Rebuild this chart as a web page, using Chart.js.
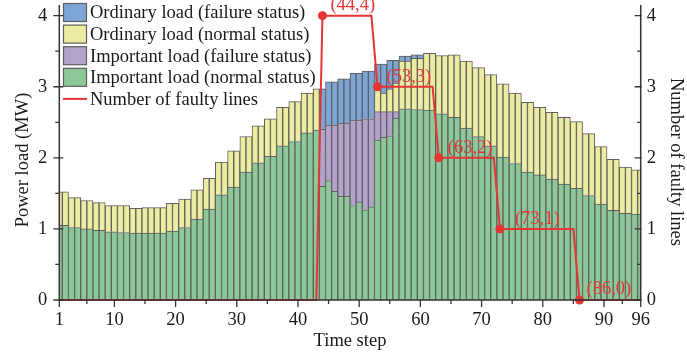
<!DOCTYPE html>
<html>
<head>
<meta charset="utf-8">
<script src="https://cdn.jsdelivr.net/npm/chart.js@4.4.1/dist/chart.umd.min.js"></script>
<style>
html,body{margin:0;padding:0;background:#fff;}
#wrap{width:687px;height:356px;position:relative;}
</style>
</head>
<body>
<div id="wrap"><canvas id="c" width="687" height="356"></canvas></div>
<script>
// ---------------- data ----------------
const timeSteps = [1,2,3,4,5,6,7,8,9,10,11,12,13,14,15,16,17,18,19,20,21,22,23,24,25,26,27,28,29,30,31,32,33,34,35,36,37,38,39,40,41,42,43,44,45,46,47,48,49,50,51,52,53,54,55,56,57,58,59,60,61,62,63,64,65,66,67,68,69,70,71,72,73,74,75,76,77,78,79,80,81,82,83,84,85,86,87,88,89,90,91,92,93,94,95,96];

const xTickLabels = [1,10,20,30,40,50,60,70,80,90,96];
const yTickLabels = [0,1,2,3,4];

// Important load (normal status), MW
const importantNormal = [
 1.05,1.05,1.02,1.02,1.00,1.00,0.98,0.98,0.96,0.96,
 0.95,0.95,0.94,0.94,0.94,0.94,0.94,0.94,0.97,0.97,
 1.02,1.02,1.14,1.14,1.28,1.28,1.48,1.48,1.59,1.59,
 1.80,1.80,1.93,1.93,2.02,2.02,2.17,2.17,2.23,2.23,
 2.35,2.35,2.39,1.60,1.68,1.53,1.46,1.46,1.33,1.38,
 1.27,1.31,2.25,2.29,2.31,2.56,2.69,2.69,2.68,2.68,
 2.67,2.67,2.62,2.62,2.57,2.57,2.42,2.42,2.30,2.30,
 2.17,2.17,2.01,2.01,1.92,1.92,1.80,1.80,1.76,1.76,
 1.70,1.70,1.63,1.63,1.57,1.57,1.47,1.47,1.35,1.35,
 1.26,1.26,1.22,1.22,1.21,1.21];

// Important load (failure status), MW
const importantFailure = [
 null,null,null,null,null,null,null,null,null,null,
 null,null,null,null,null,null,null,null,null,null,
 null,null,null,null,null,null,null,null,null,null,
 null,null,null,null,null,null,null,null,null,null,
 null,null,null,0.80,0.78,0.93,1.03,1.03,1.20,1.15,
 1.28,1.24,0.40,0.36,0.34,0.09,null,null,null,null,
 null,null,null,null,null,null,null,null,null,null,
 null,null,null,null,null,null,null,null,null,null,
 null,null,null,null,null,null,null,null,null,null,
 null,null,null,null,null,null];

// Ordinary load (normal status), MW
const ordinaryNormal = [
 0.47,0.47,0.42,0.42,0.40,0.40,0.39,0.39,0.37,0.37,
 0.38,0.38,0.35,0.35,0.36,0.36,0.36,0.36,0.39,0.39,
 0.40,0.40,0.41,0.41,0.43,0.43,0.46,0.46,0.51,0.51,
 0.50,0.50,0.52,0.52,0.53,0.53,0.54,0.54,0.56,0.56,
 0.56,0.56,0.58,null,null,null,null,null,null,null,
 null,null,0.31,0.26,0.32,0.40,0.67,0.67,0.72,0.72,
 0.80,0.80,0.82,0.82,0.88,0.88,0.94,0.94,0.97,0.97,
 1.00,1.00,1.03,1.03,0.99,0.99,0.98,0.98,0.95,0.95,
 0.94,0.94,0.94,0.94,0.94,0.94,0.87,0.87,0.81,0.81,
 0.72,0.72,0.65,0.65,0.62,0.62];

// Ordinary load (failure status), MW
const ordinaryFailure = [
 null,null,null,null,null,null,null,null,null,null,
 null,null,null,null,null,null,null,null,null,null,
 null,null,null,null,null,null,null,null,null,null,
 null,null,null,null,null,null,null,null,null,null,
 null,null,null,0.57,0.61,0.61,0.62,0.62,0.66,0.66,
 0.67,0.67,0.36,0.41,0.40,0.32,0.07,0.07,0.05,0.05,
 null,null,null,null,null,null,null,null,null,null,
 null,null,null,null,null,null,null,null,null,null,
 null,null,null,null,null,null,null,null,null,null,
 null,null,null,null,null,null];

// Number of faulty lines
const faultyLines = [
 0,0,0,0,0,0,0,0,0,0,0,0,0,0,0,0,0,0,0,0,
 0,0,0,0,0,0,0,0,0,0,0,0,0,0,0,0,0,0,0,0,
 0,0,0,4,4,4,4,4,4,4,4,4,3,3,3,3,3,3,3,3,
 3,3,2,2,2,2,2,2,2,2,2,2,1,1,1,1,1,1,1,1,
 1,1,1,1,1,0,0,0,0,0,0,0,0,0,0,0];

const markedSteps = [44,53,63,73,86];

// ---------------- styles ----------------
const COL = {
  green:'#8dc898', purple:'#b3a3cc', yellow:'#ececa2', blue:'#7da5d6',
  red:'#e53535', edge:'#5e5e5e', axis:'#333333', text:'#1a1a1a'
};
const FONT = "'Liberation Serif','Times New Roman',serif";
const FS = 18.5;
Chart.defaults.font.family = FONT;
Chart.defaults.font.size = FS;
Chart.defaults.color = COL.text;

const labelOffsets = {44:[8,-11],53:[9,-10],63:[9,-10],73:[15,-10],86:[7,-11]};

const legendItems = [
  {kind:'box', color:COL.blue,   text:'Ordinary load (failure status)'},
  {kind:'box', color:COL.yellow, text:'Ordinary load (normal status)'},
  {kind:'box', color:COL.purple, text:'Important load (failure status)'},
  {kind:'box', color:COL.green,  text:'Important load (normal status)'},
  {kind:'line',color:COL.red,    text:'Number of faulty lines'}
];

const overlay = {
  id:'overlay',
  afterDraw(chart){
    const {ctx, chartArea:a, scales} = chart;
    const xs = scales.x, ys = scales.y;
    ctx.save();
    // axes
    ctx.strokeStyle = COL.axis; ctx.lineWidth = 1.5;
    ctx.beginPath();
    ctx.moveTo(a.left, a.top); ctx.lineTo(a.left, a.bottom);
    ctx.lineTo(a.right, a.bottom); ctx.lineTo(a.right, a.top);
    ctx.stroke();
    ctx.lineWidth = 1.3;
    // y ticks (both sides)
    for (let i = 0; i < yTickLabels.length; i++) {
      const v = yTickLabels[i];
      const py = ys.getPixelForValue(v);
      ctx.beginPath();
      ctx.moveTo(a.left - 6, py); ctx.lineTo(a.left + 4, py);
      ctx.moveTo(a.right - 6, py); ctx.lineTo(a.right + 1, py);
      ctx.stroke();
      if (i < yTickLabels.length - 1) {
        const pm = ys.getPixelForValue((v + yTickLabels[i+1]) / 2);
        ctx.beginPath();
        ctx.moveTo(a.left - 4, pm); ctx.lineTo(a.left, pm);
        ctx.moveTo(a.right - 3.5, pm); ctx.lineTo(a.right, pm);
        ctx.stroke();
      }
    }
    // x ticks
    for (let i = 0; i < xTickLabels.length; i++) {
      const s = xTickLabels[i];
      const px = xs.getPixelForValue(s - 1);
      ctx.beginPath(); ctx.moveTo(px, a.bottom); ctx.lineTo(px, a.bottom + 7); ctx.stroke();
      if (i < xTickLabels.length - 1) {
        const pm = xs.getPixelForValue((s + xTickLabels[i+1]) / 2 - 1);
        ctx.beginPath(); ctx.moveTo(pm, a.bottom); ctx.lineTo(pm, a.bottom + 4); ctx.stroke();
      }
    }
    // titles
    ctx.fillStyle = COL.text;
    ctx.font = FS + 'px ' + FONT;
    ctx.textAlign = 'center'; ctx.textBaseline = 'middle';
    ctx.fillText('Time step', (a.left + a.right) / 2, 341);
    ctx.save(); ctx.translate(23, 160); ctx.rotate(-Math.PI/2);
    ctx.fillText('Power load (MW)', 0, 0); ctx.restore();
    ctx.save(); ctx.translate(676, 162); ctx.rotate(Math.PI/2);
    ctx.fillText('Number of faulty lines', 0, 0); ctx.restore();
    // legend
    ctx.textAlign = 'left';
    legendItems.forEach((it, i) => {
      const cy = 12.5 + 21.6 * i;
      if (it.kind === 'box') {
        ctx.fillStyle = it.color;
        ctx.fillRect(63.5, cy - 9, 23, 18);
        ctx.strokeStyle = COL.edge; ctx.lineWidth = 1.2;
        ctx.strokeRect(63.5, cy - 9, 23, 18);
      } else {
        ctx.strokeStyle = it.color; ctx.lineWidth = 2;
        ctx.beginPath(); ctx.moveTo(63, cy); ctx.lineTo(87, cy); ctx.stroke();
      }
      ctx.fillStyle = COL.text;
      ctx.fillText(it.text, 90, cy + 1);
    });
    // point labels
    const meta = chart.getDatasetMeta(0);
    ctx.fillStyle = COL.red;
    markedSteps.forEach(s => {
      const idx = timeSteps.indexOf(s);
      const pt = meta.data[idx];
      const off = labelOffsets[s];
      ctx.fillText('(' + s + ',' + faultyLines[idx] + ')', pt.x + off[0], pt.y + off[1]);
    });
    ctx.restore();
  }
};

const barCommon = {
  borderColor: COL.edge, borderWidth: 1, barPercentage: 1, categoryPercentage: 1,
  order: 1, stack: 'load', yAxisID: 'y'
};

new Chart(document.getElementById('c'), {
  type: 'bar',
  data: {
    labels: timeSteps.map(String),
    datasets: [
      {type:'line', label:'Number of faulty lines', data: faultyLines, yAxisID:'y2',
       borderColor: COL.red, borderWidth: 2, tension: 0, order: 0, clip: false,
       pointRadius: c => markedSteps.includes(timeSteps[c.dataIndex]) ? 4.5 : 0,
       pointBackgroundColor: COL.red, pointBorderWidth: 0},
      Object.assign({label:'Important load (normal status)', data: importantNormal, backgroundColor: COL.green}, barCommon),
      Object.assign({label:'Important load (failure status)', data: importantFailure, backgroundColor: COL.purple}, barCommon),
      Object.assign({label:'Ordinary load (normal status)', data: ordinaryNormal, backgroundColor: COL.yellow}, barCommon),
      Object.assign({label:'Ordinary load (failure status)', data: ordinaryFailure, backgroundColor: COL.blue}, barCommon)
    ]
  },
  options: {
    responsive: false, animation: false, devicePixelRatio: 1,
    layout: {padding: {top: 5, left: 0, right: 0, bottom: 0}},
    plugins: {legend: {display: false}, tooltip: {enabled: false}},
    scales: {
      x: {
        type: 'category', offset: false, stacked: true,
        grid: {display: false, drawTicks: false}, border: {display: false},
        ticks: {autoSkip: false, maxRotation: 0, minRotation: 0, padding: 9,
          callback: (v, i) => xTickLabels.includes(timeSteps[i]) ? String(timeSteps[i]) : ''},
        afterFit: s => { s.height = 56; s.paddingLeft = 0; s.paddingRight = 0; }
      },
      y: {
        position: 'left', stacked: true, min: 0, max: 4.15,
        grid: {display: false, drawTicks: false}, border: {display: false},
        ticks: {stepSize: 1, includeBounds: false, padding: 12},
        afterFit: s => { s.width = 59.3; s.paddingTop = 0; s.paddingBottom = 0; }
      },
      y2: {
        position: 'right', min: 0, max: 4.15,
        grid: {display: false, drawTicks: false}, border: {display: false},
        ticks: {stepSize: 1, includeBounds: false, padding: 6},
        afterFit: s => { s.width = 46.3; s.paddingTop = 0; s.paddingBottom = 0; }
      }
    }
  },
  plugins: [overlay]
});
</script>
</body>
</html>
